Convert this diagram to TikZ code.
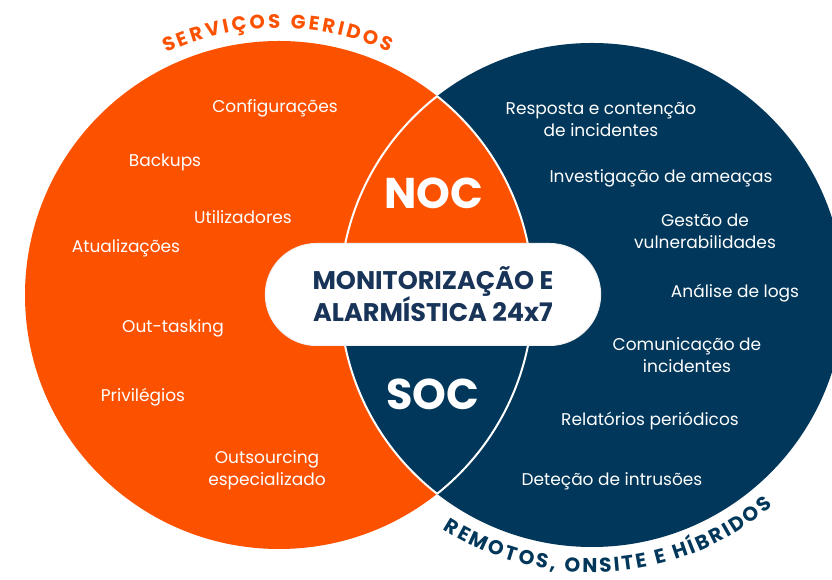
\documentclass[tikz,border=0pt]{standalone}
\usepackage{fontspec}
\setmainfont{Poppins}
\usepackage{tikz}
\usetikzlibrary{decorations.text, shapes.misc}
\definecolor{noccolor}{RGB}{252,82,0}
\definecolor{soccolor}{RGB}{0,55,90}
\definecolor{titlecolor}{RGB}{24,52,88}

\begin{document}
\begin{tikzpicture}[
    x=1pt, y=1pt,
    item/.style={text=white, font=\fontsize{17}{22}\selectfont, align=center},
    hub/.style={fill=white, draw=black!6, line width=1pt, rounded rectangle, minimum width=342pt, minimum height=102pt, font=\bfseries\fontsize{25.5}{32}\selectfont, text=titlecolor, align=center},
    zone/.style={text=white, font=\bfseries\fontsize{43}{43}\selectfont},
    lensline/.style={white, line width=2pt},
    arctitle/.style={decorate, decoration={text along path, text align=fit to path, text={#1}}}
]
    \useasboundingbox (0,0) rectangle (832,580);
    \fill[white] (0,0) rectangle (832,580);
    \clip (0,0) rectangle (832,580);

    % Circles
    \coordinate (lc) at (279,285);
    \coordinate (rc) at (592,285);
    \fill[noccolor] (lc) circle[radius=254];
    \fill[soccolor] (rc) circle[radius=252];

    % Overlap: NOC on top, SOC below
    \begin{scope}
        \clip (lc) circle[radius=254];
        \clip (0,285) rectangle (832,580);
        \fill[noccolor] (rc) circle[radius=252];
    \end{scope}
    \begin{scope}
        \clip (lc) circle[radius=254];
        \draw[lensline] (rc) circle[radius=252];
    \end{scope}
    \begin{scope}
        \clip (rc) circle[radius=252];
        \draw[lensline] (lc) circle[radius=254];
    \end{scope}

    % Arc titles
    \path[arctitle={|\bfseries\fontsize{19.5}{19.5}\selectfont\color{noccolor}|SERVIÇOS GERIDOS}]
        (lc) ++(115:267) arc[start angle=115, end angle=65.5, radius=267];
    \path[arctitle={|\bfseries\fontsize{20}{20}\selectfont\color{soccolor}|REMOTOS, ONSITE E HÍBRIDOS}]
        (rc) ++(237.5:277.5) arc[start angle=237.5, end angle=310.6, radius=277.5];

    % Centre
    \node[hub] (hub) at (433,285.5) {MONITORIZAÇÃO E\\ALARMÍSTICA 24x7};
    \node[zone] (noc) at (434,387) {NOC};
    \node[zone] (soc) at (433,186) {SOC};

    % Managed services
    \node[item] (config) at (275,471.5) {Configurações};
    \node[item] (backups) at (165,417.5) {Backups};
    \node[item] (users) at (243,362.5) {Utilizadores};
    \node[item] (updates) at (126,331.5) {Atualizações};
    \node[item] (outtask) at (173,251.5) {Out-tasking};
    \node[item] (privs) at (143,182.5) {Privilégios};
    \node[item] (outsrc) at (267,110) {Outsourcing\\especializado};

    % Security services
    \node[item] (response) at (601,460.5) {Resposta e contenção\\de incidentes};
    \node[item] (threats) at (661,401.5) {Investigação de ameaças};
    \node[item] (vulns) at (705,348.5) {Gestão de\\vulnerabilidades};
    \node[item] (logs) at (735,286.5) {Análise de logs};
    \node[item] (comms) at (687,225) {Comunicação de\\incidentes};
    \node[item] (reports) at (650,158.5) {Relatórios periódicos};
    \node[item] (intrusion) at (612,98.5) {Deteção de intrusões};
\end{tikzpicture}
\end{document}
